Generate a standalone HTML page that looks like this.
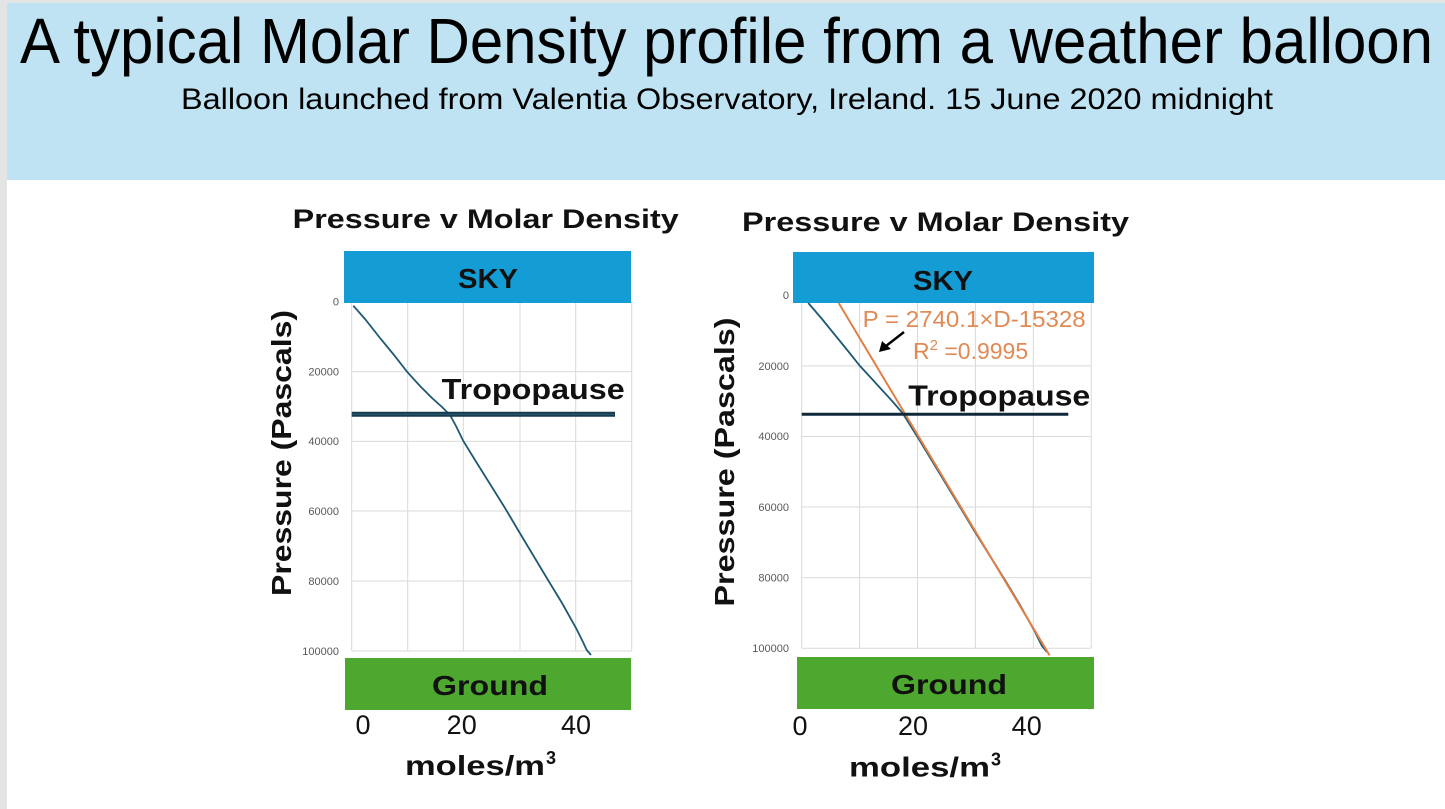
<!DOCTYPE html>
<html><head><meta charset="utf-8"><style>
html,body{margin:0;padding:0;background:#e4e4e4;}
svg{display:block;}
</style></head><body>
<svg width="1445" height="809" viewBox="0 0 1445 809" xmlns="http://www.w3.org/2000/svg" font-family="Liberation Sans, sans-serif">
<rect x="0" y="0" width="1445" height="809" fill="#e4e4e4"/>
<rect x="7" y="3" width="1438" height="806" fill="#ffffff"/>
<rect x="7" y="3" width="1438" height="177" fill="#bfe3f2"/>
<text x="20" y="63" font-size="64" fill="#000" textLength="1413" lengthAdjust="spacingAndGlyphs">A typical Molar Density profile from a weather balloon</text>
<text x="181" y="109" font-size="30" fill="#000" textLength="1092" lengthAdjust="spacingAndGlyphs">Balloon launched from Valentia Observatory, Ireland. 15 June 2020 midnight</text>

<!-- LEFT CHART -->
<text x="292.7" y="228" font-size="27" font-weight="bold" fill="#111" textLength="386" lengthAdjust="spacingAndGlyphs">Pressure v Molar Density</text>
<g stroke="#d9d9d9" stroke-width="1">
<line x1="351.7" y1="301.7" x2="351.7" y2="651"/>
<line x1="407.7" y1="301.7" x2="407.7" y2="651"/>
<line x1="463.3" y1="301.7" x2="463.3" y2="651"/>
<line x1="520" y1="301.7" x2="520" y2="651"/>
<line x1="575.7" y1="301.7" x2="575.7" y2="651"/>
<line x1="631.7" y1="301.7" x2="631.7" y2="651"/>
<line x1="351.7" y1="301.7" x2="631.7" y2="301.7"/>
<line x1="351.7" y1="371.7" x2="631.7" y2="371.7"/>
<line x1="351.7" y1="441.4" x2="631.7" y2="441.4"/>
<line x1="351.7" y1="511" x2="631.7" y2="511"/>
<line x1="351.7" y1="581" x2="631.7" y2="581"/>
<line x1="351.7" y1="651" x2="631.7" y2="651"/>
</g>
<g font-size="11" fill="#595959" text-anchor="end">
<text x="339" y="305.5">0</text>
<text x="339" y="375.5">20000</text>
<text x="339" y="445">40000</text>
<text x="339" y="515">60000</text>
<text x="339" y="585">80000</text>
<text x="339" y="655">100000</text>
</g>
<polyline fill="none" stroke="#1f5a73" stroke-width="1.8" points="353.3,305.7 365,319 380,338 394,355 407,371.7 420,386 432,398 442,407 450,415 456,426 463.3,441 475,460 490,484 505,508 518,530 533,555 548,580 562,603 576,628 583,642 586.7,650 591,655"/>
<line x1="351.7" y1="414.3" x2="615" y2="414.3" stroke="#183a4e" stroke-width="5"/>
<line x1="352" y1="414.3" x2="614" y2="414.3" stroke="#2a5870" stroke-width="1.2"/>
<text x="441.7" y="399" font-size="29" font-weight="bold" fill="#111" textLength="183" lengthAdjust="spacingAndGlyphs">Tropopause</text>
<rect x="344" y="251" width="287" height="52" fill="#139dd4"/>
<text x="458" y="288" font-size="28" font-weight="bold" fill="#111" textLength="60" lengthAdjust="spacingAndGlyphs">SKY</text>
<rect x="345" y="658" width="286" height="52" fill="#4ea72e"/>
<text x="432" y="695" font-size="28" font-weight="bold" fill="#111" textLength="116" lengthAdjust="spacingAndGlyphs">Ground</text>
<g font-size="27" fill="#111" text-anchor="middle">
<text x="363" y="734">0</text>
<text x="461.7" y="734">20</text>
<text x="576" y="734">40</text>
</g>
<text x="405" y="775" font-size="28" font-weight="bold" fill="#111" textLength="140" lengthAdjust="spacingAndGlyphs">moles/m</text>
<text x="546" y="764" font-size="18" font-weight="bold" fill="#111">3</text>
<text transform="translate(291,453) rotate(-90)" font-size="28" font-weight="bold" fill="#111" text-anchor="middle" textLength="286" lengthAdjust="spacingAndGlyphs">Pressure (Pascals)</text>

<!-- RIGHT CHART -->
<text x="742" y="231" font-size="27" font-weight="bold" fill="#111" textLength="387" lengthAdjust="spacingAndGlyphs">Pressure v Molar Density</text>
<g stroke="#d9d9d9" stroke-width="1">
<line x1="801.7" y1="295.3" x2="801.7" y2="648.2"/>
<line x1="859.6" y1="295.3" x2="859.6" y2="648.2"/>
<line x1="917.5" y1="295.3" x2="917.5" y2="648.2"/>
<line x1="975.4" y1="295.3" x2="975.4" y2="648.2"/>
<line x1="1033.3" y1="295.3" x2="1033.3" y2="648.2"/>
<line x1="1091.2" y1="295.3" x2="1091.2" y2="648.2"/>
<line x1="801.7" y1="295.3" x2="1091.2" y2="295.3"/>
<line x1="801.7" y1="365.9" x2="1091.2" y2="365.9"/>
<line x1="801.7" y1="436.5" x2="1091.2" y2="436.5"/>
<line x1="801.7" y1="507" x2="1091.2" y2="507"/>
<line x1="801.7" y1="577.6" x2="1091.2" y2="577.6"/>
<line x1="801.7" y1="648.2" x2="1091.2" y2="648.2"/>
</g>
<g font-size="11" fill="#595959" text-anchor="end">
<text x="789" y="299">0</text>
<text x="789" y="370">20000</text>
<text x="789" y="440">40000</text>
<text x="789" y="511">60000</text>
<text x="789" y="581.5">80000</text>
<text x="789" y="652">100000</text>
</g>
<polyline fill="none" stroke="#1f5a73" stroke-width="1.8" points="808.3,303 822,319 835,335 848,351 860,366 872,379 882,390 893,402 902.7,413.3 920,441 940,474 960,507 975,532 990,556 1005,580 1020,605 1035,632 1042,646 1047,652"/>
<line x1="838.7" y1="303" x2="1049.6" y2="655.4" stroke="#e07f45" stroke-width="2"/>
<line x1="801.7" y1="414.3" x2="1068.3" y2="414.3" stroke="#10293a" stroke-width="3"/>
<text x="908.3" y="405.7" font-size="29" font-weight="bold" fill="#111" textLength="182" lengthAdjust="spacingAndGlyphs">Tropopause</text>
<text x="862.7" y="327" font-size="23" fill="#e08a55" textLength="223" lengthAdjust="spacingAndGlyphs">P = 2740.1×D-15328</text>
<text x="913" y="359" font-size="23" fill="#e08a55">R<tspan font-size="15" dy="-9">2</tspan><tspan dy="9"> =0.9995</tspan></text>
<line x1="904" y1="332" x2="886" y2="346" stroke="#000" stroke-width="2.5"/>
<polygon points="879,352 882,341 891,349" fill="#000"/>
<rect x="793" y="252" width="301" height="51" fill="#139dd4"/>
<text x="913" y="290" font-size="28" font-weight="bold" fill="#111" textLength="60" lengthAdjust="spacingAndGlyphs">SKY</text>
<rect x="797" y="657" width="297" height="52" fill="#4ea72e"/>
<text x="891" y="694" font-size="28" font-weight="bold" fill="#111" textLength="116" lengthAdjust="spacingAndGlyphs">Ground</text>
<g font-size="27" fill="#111" text-anchor="middle">
<text x="800" y="735">0</text>
<text x="913" y="735">20</text>
<text x="1026.7" y="735">40</text>
</g>
<text x="849" y="776.5" font-size="28" font-weight="bold" fill="#111" textLength="141" lengthAdjust="spacingAndGlyphs">moles/m</text>
<text x="991" y="765.5" font-size="18" font-weight="bold" fill="#111">3</text>
<text transform="translate(734,462) rotate(-90)" font-size="28" font-weight="bold" fill="#111" text-anchor="middle" textLength="289" lengthAdjust="spacingAndGlyphs">Pressure (Pascals)</text>
</svg>
</body></html>
